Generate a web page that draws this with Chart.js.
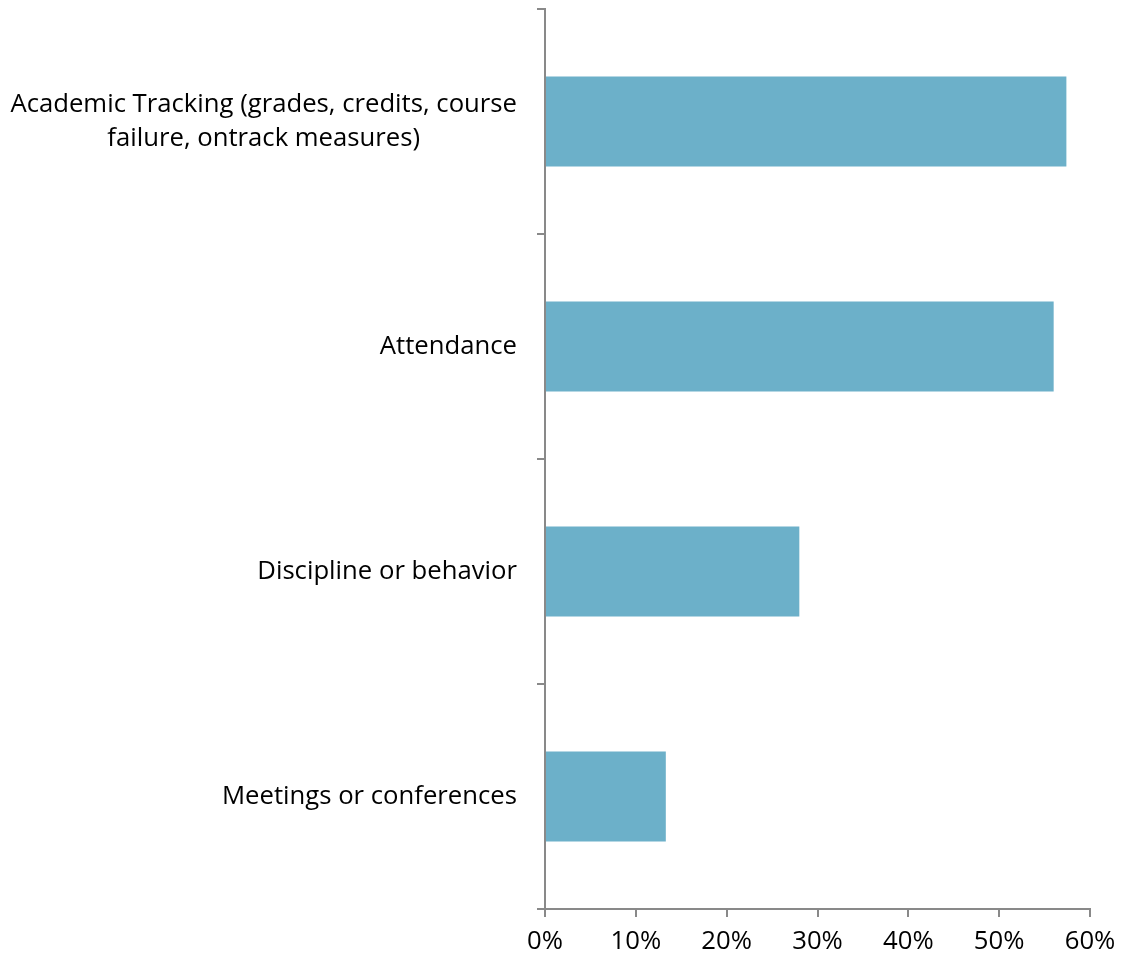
<!DOCTYPE html>
<html>
<head>
<meta charset="utf-8">
<script src="https://cdn.jsdelivr.net/npm/chart.js@4.4.0/dist/chart.umd.min.js"></script>
<style>
  html, body { margin: 0; padding: 0; background: #fff; }
  #wrap { width: 1122px; height: 965px; position: relative; }
</style>
</head>
<body>
<div id="wrap"><canvas id="chart"></canvas></div>
<script>
const categories = [
  ["Academic Tracking (grades, credits, course", "failure, ontrack measures)"],
  ["Attendance"],
  ["Discipline or behavior"],
  ["Meetings or conferences"]
];
const values = [57.4, 56.0, 28.0, 13.3];
const xTicks = [0, 10, 20, 30, 40, 50, 60];

const axisColor = "#898989";
const barColor = "#6cb0c9";
const fontFamily = "'Open Sans', 'DejaVu Sans', sans-serif";

// draws the category labels: block right-aligned, lines centered in the block
const categoryLabels = {
  id: "categoryLabels",
  afterDraw(chart) {
    const ctx = chart.ctx;
    const yScale = chart.scales.y;
    const right = 517;
    const lineHeight = 34;
    ctx.save();
    ctx.font = "25.7px " + fontFamily;
    ctx.fillStyle = "#000";
    ctx.textAlign = "center";
    ctx.textBaseline = "middle";
    categories.forEach((lines, i) => {
      const cy = yScale.getPixelForTick(i);
      const widest = Math.max(...lines.map((l) => ctx.measureText(l).width));
      const cx = right - widest / 2;
      const top = cy - ((lines.length - 1) * lineHeight) / 2;
      lines.forEach((line, j) => {
        ctx.fillText(line, cx, top + j * lineHeight);
      });
    });
    ctx.restore();
  }
};

new Chart(document.getElementById("chart"), {
  type: "bar",
  data: {
    labels: categories.map((c) => c.join(" ")),
    datasets: [
      {
        data: values,
        backgroundColor: barColor,
        borderWidth: 0,
        categoryPercentage: 0.8,
        barPercentage: 0.5
      }
    ]
  },
  options: {
    indexAxis: "y",
    responsive: true,
    maintainAspectRatio: false,
    animation: false,
    layout: { padding: { left: 0, top: 9, right: 32, bottom: 0 } },
    plugins: {
      legend: { display: false },
      tooltip: { enabled: false }
    },
    scales: {
      x: {
        min: 0,
        max: 60,
        afterBuildTicks(scale) {
          scale.ticks = xTicks.map((v) => ({ value: v }));
        },
        afterFit(scale) {
          scale.height = 56;
          scale.paddingLeft = 0;
          scale.paddingRight = 32;
        },
        border: { display: true, color: axisColor, width: 2 },
        grid: {
          drawOnChartArea: false,
          drawTicks: true,
          tickLength: 8,
          color: axisColor,
          lineWidth: 2
        },
        ticks: {
          padding: 9,
          color: "#000",
          font: { family: fontFamily, size: 25.7 },
          maxRotation: 0,
          callback: (v) => v + "%"
        }
      },
      y: {
        afterFit(scale) {
          scale.width = 545;
        },
        border: { display: true, color: axisColor, width: 2 },
        grid: {
          offset: true,
          drawOnChartArea: false,
          drawTicks: true,
          tickLength: 8,
          color: axisColor,
          lineWidth: 2
        },
        ticks: { display: false }
      }
    }
  },
  plugins: [categoryLabels]
});
</script>
</body>
</html>
